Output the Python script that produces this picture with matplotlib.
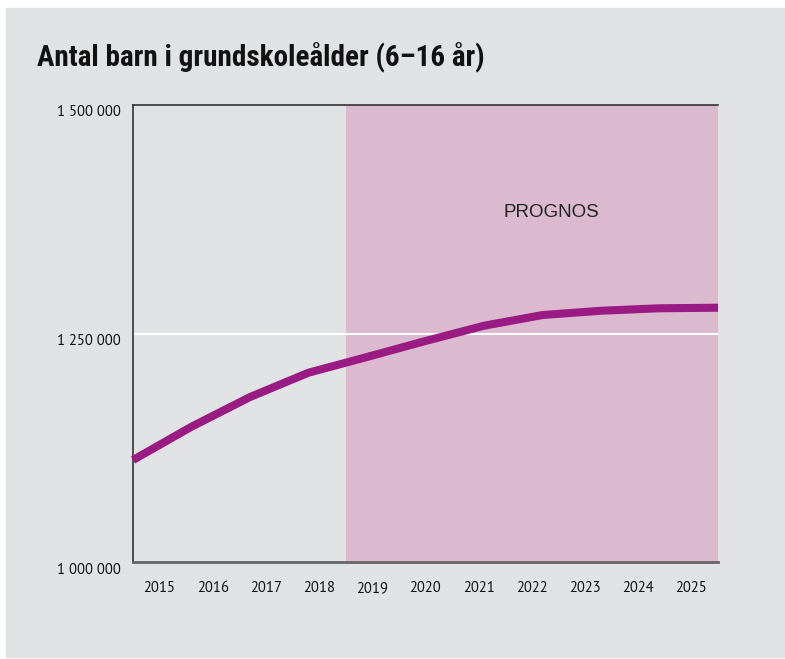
import matplotlib.pyplot as plt
import matplotlib.transforms as mtransforms
from matplotlib.patches import Rectangle

# data
years = [2015, 2016, 2017, 2018, 2019, 2020, 2021, 2022, 2023, 2024, 2025]
children = [1111600, 1148000, 1180500, 1207100, 1224300, 1241800,
            1258500, 1270200, 1274900, 1277600, 1278200]
first_forecast = 2019
y_ticks = [1000000, 1250000, 1500000]
y_labels = ['1 000 000', '1 250 000', '1 500 000']

bg = '#e1e2e4'
pink = '#dbbad0'
purple = '#9b1b84'
tick_font = ['PT Sans', 'DejaVu Sans']

W, H = 785, 659
fig = plt.figure(figsize=(W / 100, H / 100), dpi=100, facecolor='white')
fig.patches.append(Rectangle((6 / W, 1 - 657 / H), 1 - 6 / W, (657 - 8) / H,
                             transform=fig.transFigure, color=bg, zorder=-10))

rect = [133 / W, 1 - 562 / H, (718 - 133) / W, (562 - 105) / H]

# band axis: categories for labels and forecast shading
axb = fig.add_axes(rect)
axb.set_facecolor(bg)
n = len(years)
axb.set_xlim(-0.5, n - 0.5)
axb.set_ylim(y_ticks[0], y_ticks[-1])
k = years.index(first_forecast)
axb.axvspan(k - 0.5, n - 0.5, color=pink, lw=0, zorder=0)
axb.axhline(y_ticks[1], color='white', lw=1.5, zorder=1)
axb.set_xticks(range(n))
axb.set_xticklabels([str(y) for y in years], fontsize=10.5, family=tick_font)
axb.set_yticks(y_ticks)
axb.set_yticklabels(y_labels, fontsize=10.5, family=tick_font)
axb.tick_params(length=0, pad=9, colors='#111111')
axb.tick_params(axis='x', pad=14)
# y labels sit a little below their value lines in the reference
shift = mtransforms.ScaledTranslation(0, -6 / 100, fig.dpi_scale_trans)
for lab in axb.get_yticklabels():
    lab.set_transform(lab.get_transform() + shift)
axb.spines['right'].set_visible(False)
for s in ['left', 'top']:
    axb.spines[s].set_color('#333333')
    axb.spines[s].set_linewidth(1.2)
axb.spines['bottom'].set_color('#666666')
axb.spines['bottom'].set_linewidth(2)
axb.text(k + 3.36, 1382000, 'PROGNOS', ha='center', va='center',
         fontsize=13.5, family=['Liberation Sans', 'DejaVu Sans'], color='#222222')

# point axis: years from edge to edge for the line
axl = fig.add_axes(rect, sharey=axb)
axl.patch.set_visible(False)
axl.set_xlim(years[0], years[-1])
axl.plot(years, children, color=purple, lw=5.8, solid_capstyle='butt',
         solid_joinstyle='miter', clip_on=False, zorder=3)
axl.set_axis_off()

fig.text(37 / W, 1 - 58 / H, 'Antal barn i grundskoleålder (6–16 år)',
         ha='left', va='center', fontsize=21, fontweight='bold',
         family=['Roboto Condensed', 'DejaVu Sans'], color='#111111')

fig.savefig('out.png', dpi=100, facecolor='white')
